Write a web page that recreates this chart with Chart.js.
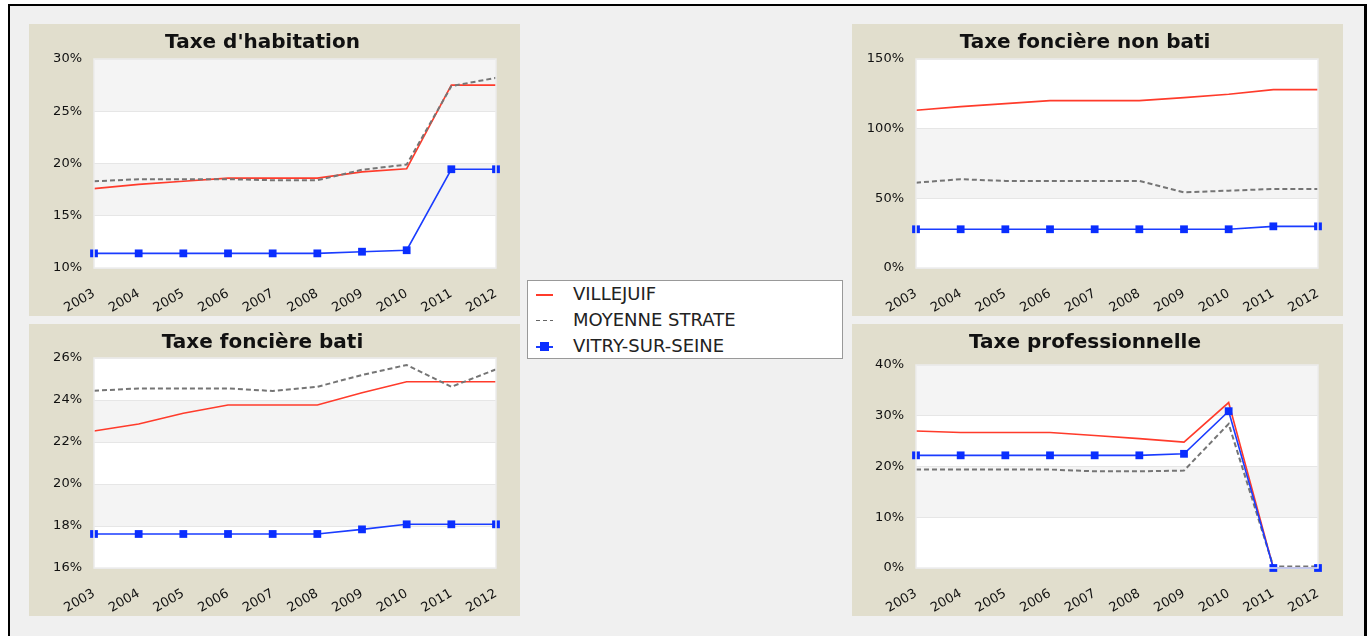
<!DOCTYPE html>
<html>
<head>
<meta charset="utf-8">
<script src="https://cdn.jsdelivr.net/npm/chart.js@4/dist/chart.umd.min.js"></script>
<style>
  body { margin: 0; background: #fff; width: 1369px; height: 636px; overflow: hidden; position: relative; font-family: 'DejaVu Sans', sans-serif; }
  #frame { position: absolute; left: 8px; top: 4px; width: 1354px; height: 700px; border: 2px solid #000; border-right-width: 3px; background: #f0f0f0; }
  .panel { position: absolute; background: #e1decd; }
  #legend { position: absolute; left: 527px; top: 280px; width: 314px; height: 77px; background: #fff; border: 1px solid #999; }
  .item { position: absolute; left: 45px; font-size: 18px; color: #222; line-height: 20px; }
  .sym { position: absolute; left: 8px; width: 17px; }
</style>
</head>
<body>
<div id="frame"></div>
<div class="panel" style="left:29px;top:24px;width:491px;height:292px"><canvas id="c1" width="491" height="292"></canvas></div>
<div class="panel" style="left:29px;top:324px;width:491px;height:292px"><canvas id="c2" width="491" height="292"></canvas></div>
<div class="panel" style="left:852px;top:24px;width:491px;height:292px"><canvas id="c3" width="491" height="292"></canvas></div>
<div class="panel" style="left:852px;top:324px;width:491px;height:292px"><canvas id="c4" width="491" height="292"></canvas></div>
<div id="legend">
  <div class="sym" style="top:13px;height:1.5px;background:#ff3b2b"></div>
  <div class="item" style="top:3px">VILLEJUIF</div>
  <div class="sym" style="top:39px;height:1px;background:repeating-linear-gradient(to right,#666 0 4px,transparent 4px 7px)"></div>
  <div class="item" style="top:29px">MOYENNE STRATE</div>
  <div class="sym" style="top:65px;height:1.5px;background:#1a3cff"></div>
  <div class="sym" style="top:61px;left:12px;width:9px;height:9px;background:#0a2eff"></div>
  <div class="item" style="top:55px">VITRY-SUR-SEINE</div>
</div>
<script>
const years = ['2003', '2004', '2005', '2006', '2007', '2008', '2009', '2010', '2011', '2012'];

// Taxe d'habitation
const habVillejuif = [17.6, 18.0, 18.3, 18.6, 18.6, 18.6, 19.2, 19.5, 27.5, 27.5];
const habStrate = [18.3, 18.5, 18.5, 18.5, 18.4, 18.4, 19.4, 19.9, 27.4, 28.2];
const habVitry = [11.4, 11.4, 11.4, 11.4, 11.4, 11.4, 11.56, 11.7, 19.45, 19.45];

// Taxe foncière bati
const fbVillejuif = [22.52, 22.86, 23.37, 23.76, 23.76, 23.76, 24.35, 24.87, 24.87, 24.87];
const fbStrate = [24.44, 24.55, 24.55, 24.55, 24.43, 24.63, 25.19, 25.67, 24.63, 25.46];
const fbVitry = [17.62, 17.62, 17.62, 17.62, 17.62, 17.62, 17.84, 18.08, 18.08, 18.08];

// Taxe foncière non bati
const fnbVillejuif = [113.2, 115.8, 118.0, 120.1, 120.1, 120.1, 122.3, 124.7, 128.0, 128.0];
const fnbStrate = [61.2, 63.7, 62.5, 62.5, 62.5, 62.5, 54.3, 55.5, 56.7, 56.7];
const fnbVitry = [27.8, 27.8, 27.8, 27.8, 27.8, 27.8, 27.8, 27.8, 29.9, 29.9];

// Taxe professionnelle
const tpVillejuif = [27.0, 26.7, 26.7, 26.7, 26.1, 25.5, 24.8, 32.6, 0, 0];
const tpStrate = [19.4, 19.4, 19.4, 19.4, 19.05, 19.05, 19.2, 28.4, 0.3, 0.3];
const tpVitry = [22.2, 22.2, 22.2, 22.2, 22.2, 22.2, 22.5, 30.9, 0, 0];

Chart.defaults.font.family = 'DejaVu Sans';
Chart.defaults.color = '#111';

// white / light grey bands behind the plot, light frame drawn over the lines
const bands = {
  id: 'bands',
  beforeDraw(chart) {
    const { ctx, chartArea: a } = chart;
    const y = chart.scales.y;
    ctx.save();
    ctx.fillStyle = '#fff';
    ctx.fillRect(a.left, a.top, a.width, a.height);
    ctx.fillStyle = '#f4f4f4';
    for (let i = 1; i + 1 < y.ticks.length; i += 2) {
      const y1 = y.getPixelForValue(y.ticks[i].value);
      const y2 = y.getPixelForValue(y.ticks[i + 1].value);
      ctx.fillRect(a.left, y2, a.width, y1 - y2);
    }
    ctx.restore();
  },
  afterDatasetsDraw(chart) {
    const { ctx, chartArea: a } = chart;
    ctx.save();
    ctx.strokeStyle = '#ececec';
    ctx.lineWidth = 1.5;
    ctx.strokeRect(a.left, a.top, a.width, a.height);
    ctx.restore();
  }
};

function makeChart(id, title, red, gray, blue, yMin, yMax, yStep, left, top) {
  return new Chart(document.getElementById(id), {
    type: 'line',
    data: {
      labels: years,
      datasets: [{
        label: 'VILLEJUIF',
        data: red,
        borderColor: '#ff3b2b',
        borderWidth: 1.6,
        pointRadius: 0,
        order: 2
      }, {
        label: 'MOYENNE STRATE',
        data: gray,
        borderColor: '#757575',
        borderWidth: 2,
        borderDash: [5, 3],
        pointRadius: 0,
        order: 1
      }, {
        label: 'VITRY-SUR-SEINE',
        data: blue,
        borderColor: '#1a3cff',
        borderWidth: 1.6,
        pointStyle: 'rect',
        pointRadius: 5.5,
        pointBackgroundColor: '#0a2eff',
        pointBorderWidth: 0,
        clip: false,
        order: 0
      }]
    },
    options: {
      responsive: false,
      animation: false,
      layout: { padding: { left: 0, right: 491 - left - 402, top: 0, bottom: 0 } },
      plugins: {
        legend: { display: false },
        tooltip: { enabled: false },
        title: {
          display: true,
          text: title,
          color: '#111',
          font: { size: 20, weight: 'bold' },
          padding: { top: 7, bottom: top - 31 }
        }
      },
      scales: {
        x: {
          grid: { display: false },
          border: { display: false },
          ticks: { maxRotation: 30, minRotation: 30, padding: 10, color: '#111', font: { size: 13 } },
          afterFit(s) { s.height = 48; }
        },
        y: {
          min: yMin,
          max: yMax,
          grid: { color: '#e6e6e6', drawTicks: false },
          border: { display: false },
          ticks: { stepSize: yStep, padding: 12, color: '#111', font: { size: 13 }, callback: v => v + '%' },
          afterFit(s) { s.width = left; }
        }
      }
    },
    plugins: [bands]
  });
}

makeChart('c1', "Taxe d'habitation", habVillejuif, habStrate, habVitry, 10, 30, 5, 65, 35);
makeChart('c2', 'Taxe foncière bati', fbVillejuif, fbStrate, fbVitry, 16, 26, 2, 65, 34);
makeChart('c3', 'Taxe foncière non bati', fnbVillejuif, fnbStrate, fnbVitry, 0, 150, 50, 64, 35);
makeChart('c4', 'Taxe professionnelle', tpVillejuif, tpStrate, tpVitry, 0, 40, 10, 64, 41);
</script>
</body>
</html>
